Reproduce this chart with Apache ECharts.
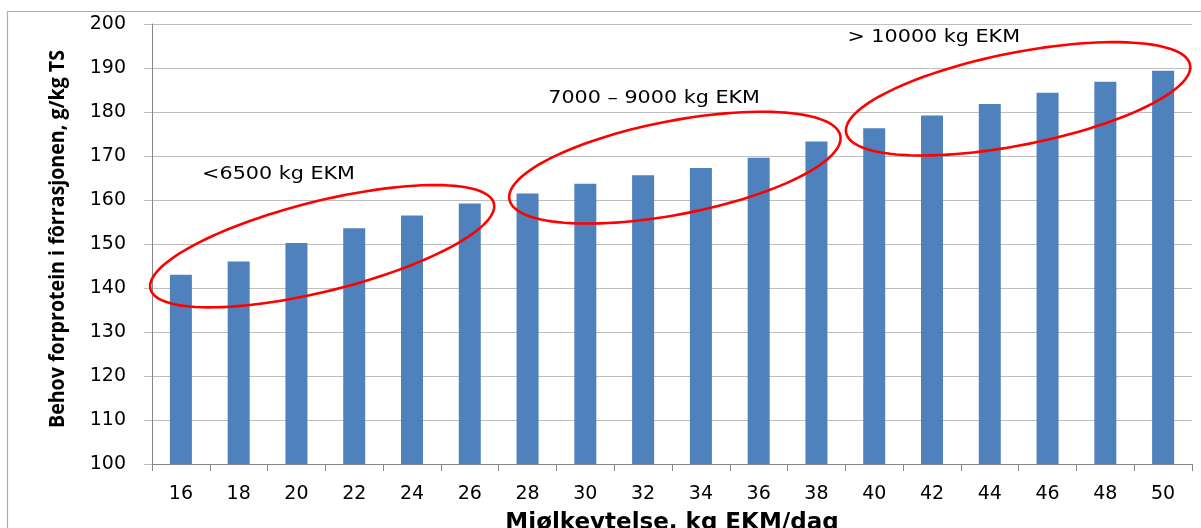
<!DOCTYPE html>
<html>
<head>
<meta charset="utf-8">
<script src="https://cdn.jsdelivr.net/npm/echarts@6/dist/echarts.min.js"></script>
<style>
  html, body { margin: 0; padding: 0; background: #ffffff; }
  #chart { width: 1201px; height: 528px; }
</style>
</head>
<body>
<div id="chart"></div>
<script>
// Daily milk yield (kg EKM/day) and required feed protein (g/kg TS)
const milkYield = ['16', '18', '20', '22', '24', '26', '28', '30', '32', '34', '36', '38', '40', '42', '44', '46', '48', '50'];
const proteinNeed = [143.0, 146.0, 150.2, 153.6, 156.5, 159.2, 161.5, 163.7, 165.6, 167.3, 169.6, 173.3, 176.3, 179.2, 181.8, 184.4, 186.9, 189.4];

// Yield groups, each circled by an ellipse with a caption above it
const groupLabels = ['<6500 kg EKM', '7000 \u2013 9000 kg EKM', '> 10000 kg EKM'];
const groupCenterIndex = [2.445, 8.55, 14.49];   // category position of the ellipse centre
const groupCenterValue = [149.5, 167.35, 183.0];
const groupLabelIndex = [1.69, 8.19, 13.03];
const groupLabelValue = [165.9, 183.2, 197.0];

const yTitle = 'Behov forprotein i fôrrasjonen, g/kg TS';
const xTitle = 'Mjølkeytelse, kg EKM/dag';

// ellipse shape in pixels: semi-major, semi-minor, tilt in degrees
const ellipseShape = [
  { a: 177, b: 45, tilt: 14 },
  { a: 168.5, b: 46.8, tilt: 10.9 },
  { a: 175.3, b: 46.2, tilt: 11.2 }
];

const chart = echarts.init(document.getElementById('chart'));

// the vertical title is set in a condensed face: squeeze it to its target length
const yTitleFont = 'bold 22px "Open Sans", sans-serif';
const measureCtx = document.createElement('canvas').getContext('2d');
measureCtx.font = yTitleFont;
const yTitleScale = 378 / measureCtx.measureText(yTitle).width;

// pixel position of a fractional category index
function toPixel(api, idx, val) {
  const base = Math.floor(idx);
  const p = api.coord([base, val]);
  const band = api.size([1, 0])[0];
  return [p[0] + (idx - base) * band, p[1]];
}

function renderGroup(params, api) {
  const i = params.dataIndex;
  const c = toPixel(api, groupCenterIndex[i], groupCenterValue[i]);
  const s = ellipseShape[i];
  const th = s.tilt * Math.PI / 180;
  const pts = [];
  for (let k = 0; k < 120; k++) {
    const t = (k / 120) * Math.PI * 2;
    const ex = s.a * Math.cos(t), ey = s.b * Math.sin(t);
    pts.push([c[0] + ex * Math.cos(th) - ey * Math.sin(th),
              c[1] - (ex * Math.sin(th) + ey * Math.cos(th))]);
  }
  const lp = toPixel(api, groupLabelIndex[i], groupLabelValue[i]);
  return {
    type: 'group',
    children: [
      {
        type: 'polygon',
        shape: { points: pts },
        style: { fill: null, stroke: '#FF0000', lineWidth: 2.6 }
      },
      {
        type: 'text',
        x: lp[0], y: lp[1],
        scaleX: 1.15,
        style: {
          text: groupLabels[i],
          fill: '#000000',
          font: '18px "DejaVu Sans", sans-serif',
          align: 'center',
          verticalAlign: 'middle'
        }
      }
    ]
  };
}

chart.setOption({
  animation: false,
  backgroundColor: '#ffffff',
  graphic: [
    {
      // chart-area frame, running off the right and bottom edges
      type: 'rect',
      x: 7.5, y: 11.5,
      shape: { x: 0, y: 0, width: 1300, height: 600 },
      style: { fill: null, stroke: '#95B3D7', lineWidth: 1.2 },
      silent: true,
      z: -1
    },
    {
      type: 'text',
      x: 58, y: 239,
      rotation: Math.PI / 2,
      scaleX: yTitleScale,
      style: {
        text: yTitle,
        font: yTitleFont,
        fill: '#000',
        align: 'center',
        verticalAlign: 'middle'
      },
      silent: true
    }
  ],
  grid: { left: 152, right: 9, top: 24, bottom: 64, containLabel: false, outerBoundsMode: 'none' },
  xAxis: {
    type: 'category',
    data: milkYield,
    name: xTitle,
    nameLocation: 'middle',
    nameGap: 48,
    nameTextStyle: { fontFamily: '"DejaVu Sans", sans-serif', fontWeight: 'bold', fontSize: 23, color: '#000' },
    axisLine: { lineStyle: { color: '#868686', width: 1 } },
    axisTick: { show: true, length: 7, lineStyle: { color: '#868686' } },
    axisLabel: { color: '#000', fontFamily: '"DejaVu Sans", sans-serif', fontSize: 19, margin: 21 },
    splitLine: { show: false }
  },
  yAxis: {
    type: 'value',
    min: 100, max: 200, interval: 10,
    axisLine: { show: true, lineStyle: { color: '#868686', width: 1 } },
    axisTick: { show: true, length: 8, lineStyle: { color: '#BEBEBE' } },
    axisLabel: { color: '#000', fontFamily: '"DejaVu Sans", sans-serif', fontSize: 19, margin: 26 },
    splitLine: { show: true, lineStyle: { color: '#BEBEBE', width: 1.2 } }
  },
  series: [
    {
      type: 'bar',
      data: proteinNeed,
      barWidth: 22,
      itemStyle: { color: '#4F81BD' }
    },
    {
      type: 'custom',
      renderItem: renderGroup,
      data: groupLabels.map((_, i) => [i, 150]),
      z: 5,
      silent: true
    }
  ]
});
</script>
</body>
</html>
